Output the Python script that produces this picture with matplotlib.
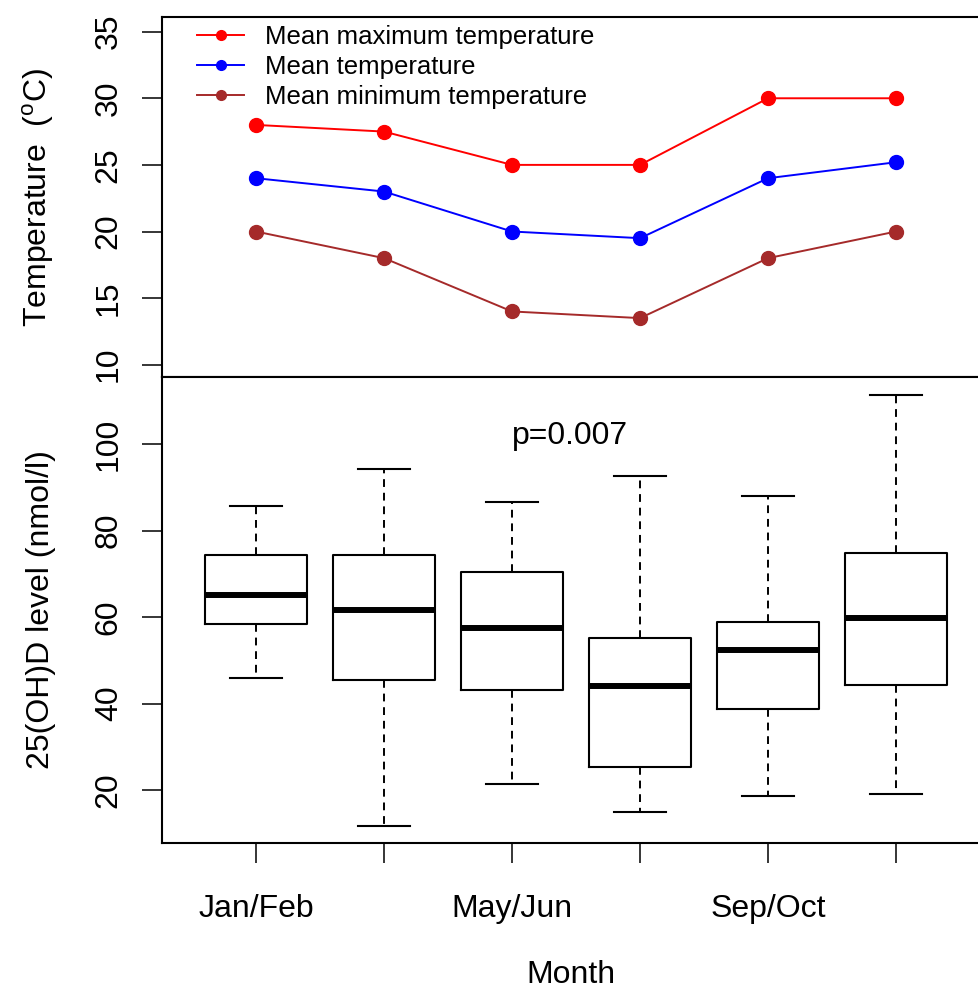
import matplotlib
matplotlib.use('Agg')
import matplotlib.pyplot as plt
import numpy as np

plt.rcParams['font.family'] = ['Liberation Sans', 'DejaVu Sans']
plt.rcParams['mathtext.fontset'] = 'custom'
plt.rcParams['mathtext.rm'] = 'Liberation Sans'

months = ['Jan/Feb', 'Mar/Apr', 'May/Jun', 'Jul/Aug', 'Sep/Oct', 'Nov/Dec']
shown_months = ['Jan/Feb', 'May/Jun', 'Sep/Oct']

# monthly temperatures (deg C)
t_max = [28, 27.5, 25, 25, 30, 30]
t_mean = [24, 23, 20, 19.5, 24, 25.2]
t_min = [20, 18, 14, 13.5, 18, 20]

# 25(OH)D box summaries per period
whislo = [46, 11.7, 21.4, 14.8, 18.5, 19.0]
q1 = [58.3, 45.4, 43.2, 25.4, 38.7, 44.2]
med = [65.1, 61.6, 57.5, 44.1, 52.4, 59.7]
q3 = [74.4, 74.4, 70.4, 55.1, 58.8, 74.8]
whishi = [85.7, 94.4, 86.6, 92.6, 88.0, 111.4]

p_label = 'p=0.007'

fig = plt.figure(figsize=(9.79, 9.92), dpi=100)
W, H = 979.0, 992.0
left = 162 / W
ax_t = fig.add_axes([left, 1 - 377 / H, 1 - left, (377 - 17) / H])
ax_b = fig.add_axes([left, 1 - 843 / H, 1 - left, (843 - 377) / H])

x = np.arange(1, len(months) + 1)
xlim = (0.2656, 6.648)
fs = 23
lw_frame = 1.5

# top panel: temperature lines
for vals, col, lab in [(t_max, '#FF0000', 'Mean maximum temperature'),
                       (t_mean, '#0000FF', 'Mean temperature'),
                       (t_min, '#A52A2A', 'Mean minimum temperature')]:
    ax_t.plot(x, vals, color=col, lw=1.4, marker='o', ms=10, label=lab)

ax_t.set_xlim(*xlim)
ax_t.set_ylim(9.08, 36.1)
ax_t.set_yticks([10, 15, 20, 25, 30, 35])
ax_t.set_xticks([])
ax_t.set_ylabel(r'Temperature  ($^{\rm o}$C)', fontsize=fs, labelpad=27)
leg = ax_t.legend(loc='upper left', bbox_to_anchor=(0.03, 1.005), frameon=False,
                  fontsize=18.5, handlelength=1.85, handletextpad=0.8,
                  labelspacing=0.22, markerscale=0.7, borderaxespad=0)

# bottom panel: boxplots
stats = []
for i in range(len(months)):
    stats.append(dict(med=med[i], q1=q1[i], q3=q3[i], whislo=whislo[i],
                      whishi=whishi[i], fliers=[], label=months[i]))
ax_b.bxp(stats, positions=x, widths=0.8, showfliers=False, capwidths=0.41,
         boxprops=dict(color='black', lw=1.5),
         whiskerprops=dict(color='black', lw=1.4, linestyle=(0, (4, 3))),
         capprops=dict(color='black', lw=1.5),
         medianprops=dict(color='black', lw=4.3, solid_capstyle='butt'))
ax_b.set_xlim(*xlim)
ax_b.set_ylim(7.7, 115.6)
ax_b.set_yticks([20, 40, 60, 80, 100])
ax_b.set_xticks(x)
ax_b.set_xticklabels([m if m in shown_months else '' for m in months])
ax_b.set_ylabel('25(OH)D level (nmol/l)', fontsize=fs, labelpad=27)
ax_b.set_xlabel('Month', fontsize=fs, labelpad=26)
ax_b.text(3.45, 101.9, p_label, ha='center', va='center', fontsize=fs)

for ax in (ax_t, ax_b):
    ax.spines['right'].set_visible(False)
    for s in ('left', 'top', 'bottom'):
        ax.spines[s].set_linewidth(lw_frame)
    ax.tick_params(axis='both', length=14.5, width=1.1, labelsize=fs)
    ax.tick_params(axis='y', pad=13)
    ax.tick_params(axis='x', pad=22)
    for t in ax.get_yticklabels():
        t.set_rotation(90)
        t.set_va('center')

fig.savefig('out.png', dpi=100)
